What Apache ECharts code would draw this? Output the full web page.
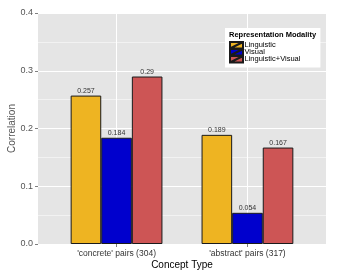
<!DOCTYPE html>
<html><head><meta charset="utf-8">
<script src="https://cdn.jsdelivr.net/npm/echarts@6/dist/echarts.min.js"></script>
<style>html,body{margin:0;padding:0;background:#fff}#c{width:338px;height:277px}</style>
</head><body><div id="c"></div>
<script>
var categories = ["'concrete' pairs (304)", "'abstract' pairs (317)"];
var catPos = [1, 2];
var seriesNames = ['Linguistic', 'Visual', 'Linguistic+Visual'];
var linguistic = [0.257, 0.189];
var visual = [0.184, 0.054];
var lingVisual = [0.290, 0.167];
var yTicks = [0, 0.1, 0.2, 0.3, 0.4];
var colors = ['#EEB422', '#0000CD', '#CD5555'];

var FONT = 'Liberation Sans, Arial, sans-serif';
var chart = echarts.init(document.getElementById('c'), null, {renderer: 'canvas'});
function mk(name, vals, color) {
  return {
    name: name, type: 'bar', barWidth: 30.6, barGap: '0%',
    data: vals.map(function (v, i) { return [catPos[i], v]; }),
    itemStyle: {color: color, borderColor: '#1a1a1a', borderWidth: 1},
    label: {show: true, position: 'top', distance: 1, fontSize: 7, color: '#333', fontFamily: FONT,
      formatter: function (p) { return String(p.value[1]); }},
    z: 3
  };
}
chart.setOption({
  animation: false,
  textStyle: {fontFamily: FONT},
  grid: {left: 38, right: 12, top: 13, bottom: 33, backgroundColor: '#E5E5E5', show: true, borderWidth: 0,
    containLabel: false, outerBoundsMode: 'none'},
  title: {text: 'Representation Modality', left: 229, top: 31, padding: 0,
    textStyle: {fontSize: 7.5, fontWeight: 'bold', color: '#000', fontFamily: FONT}},
  legend: {
    orient: 'vertical', left: 225, top: 28, padding: [13, 20, 4, 4], backgroundColor: '#fff',
    itemWidth: 14, itemHeight: 6.5, itemGap: -1.5,
    icon: 'path://M0,0 L14,0 L14,7 L0,7 Z M0,7 L14,0',
    textStyle: {fontSize: 7.5, lineHeight: 7, color: '#000', padding: [0, 0, 0, -4], fontFamily: FONT},
    data: seriesNames
  },
  xAxis: {
    type: 'value', min: 0.4, max: 2.6,
    name: 'Concept Type', nameLocation: 'middle', nameGap: 16, nameMoveOverlap: false,
    nameTextStyle: {fontSize: 10, color: '#000', fontFamily: FONT},
    axisLine: {show: false},
    axisTick: {show: true, customValues: catPos, length: 3, lineStyle: {color: '#7F7F7F'}},
    axisLabel: {customValues: catPos, fontSize: 8.5, color: '#333', margin: 5,
      formatter: function (v) { return categories[catPos.indexOf(v)] || ''; }},
    splitLine: {show: true, customValues: catPos, lineStyle: {color: '#fff', width: 1}}
  },
  yAxis: {
    type: 'value', min: 0, max: 0.4, interval: 0.1,
    name: 'Correlation', nameLocation: 'middle', nameGap: 21, nameMoveOverlap: false,
    nameTextStyle: {fontSize: 10, color: '#555', fontFamily: FONT},
    axisLine: {show: false},
    axisTick: {show: true, length: 3, lineStyle: {color: '#7F7F7F'}},
    axisLabel: {fontSize: 9, color: '#555', margin: 5, formatter: function (v) { return v.toFixed(1); }},
    splitLine: {show: true, lineStyle: {color: '#fff', width: 1}},
    minorTick: {show: false, splitNumber: 2},
    minorSplitLine: {show: true, lineStyle: {color: '#F2F2F2', width: 1}}
  },
  series: [mk(seriesNames[0], linguistic, colors[0]), mk(seriesNames[1], visual, colors[1]), mk(seriesNames[2], lingVisual, colors[2])]
});
</script></body></html>
